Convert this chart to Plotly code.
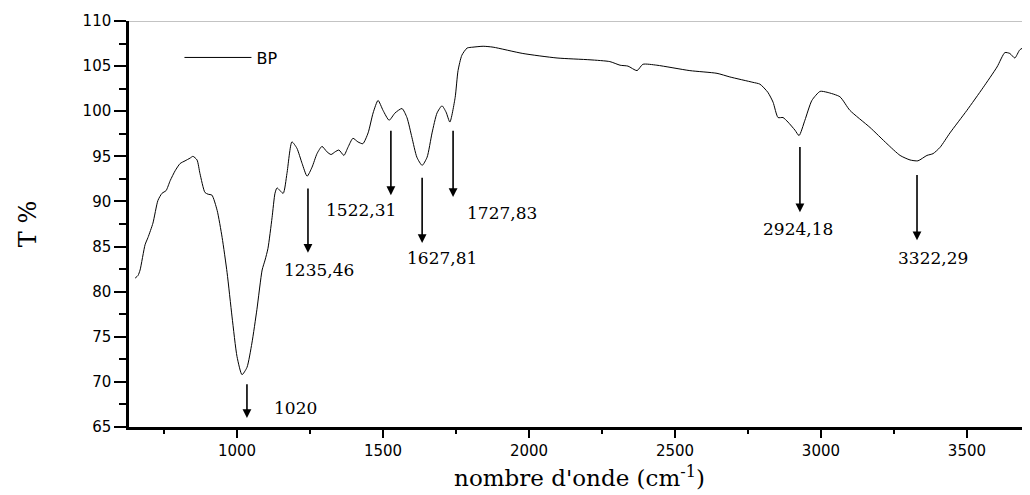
import plotly.graph_objects as go

# ---- data ----
wavenumber = [651, 661, 668, 685, 695, 712, 729, 743, 757, 771, 788, 805, 822, 839, 849, 863,
              873, 890, 901, 914, 932, 949, 966, 983, 1000, 1017, 1034, 1051, 1068, 1086, 1096,
              1106, 1120, 1130, 1137, 1158, 1171, 1188, 1205, 1223, 1240, 1257, 1274, 1291, 1308,
              1322, 1336, 1349, 1366, 1380, 1397, 1414, 1431, 1449, 1466, 1483, 1500, 1521, 1541,
              1565, 1582, 1599, 1616, 1634, 1651, 1668, 1685, 1702, 1716, 1729, 1747, 1757, 1770,
              1788, 1808, 1843, 1877, 1979, 2096, 2209, 2277, 2312, 2339, 2370, 2390, 2438, 2551,
              2644, 2688, 2767, 2791, 2818, 2836, 2853, 2870, 2887, 2911, 2925, 2945, 2969, 2997,
              3021, 3065, 3099, 3168, 3226, 3271, 3305, 3332, 3363, 3384, 3408, 3442, 3500, 3555,
              3603, 3630, 3647, 3664, 3681, 3699, 3716]
transmittance = [81.5, 81.8, 82.4, 85.2, 86.0, 87.6, 90.1, 90.9, 91.2, 92.3, 93.4, 94.2, 94.5,
                 94.8, 95.0, 94.6, 93.1, 91.0, 90.8, 90.7, 89.0, 86.0, 82.1, 77.2, 72.8, 70.8,
                 71.6, 74.3, 78.0, 82.4, 83.5, 84.8, 88.2, 90.9, 91.5, 90.9, 93.1, 96.6, 95.9,
                 94.2, 92.8, 93.8, 95.3, 96.1, 95.5, 95.2, 95.5, 95.7, 95.1, 96.0, 97.0, 96.6,
                 96.4, 97.6, 99.8, 101.2, 100.1, 99.0, 99.8, 100.3, 99.3, 97.1, 94.9, 94.0, 94.9,
                 97.6, 99.8, 100.6, 99.9, 98.8, 101.5, 104.5, 106.2, 107.0, 107.1, 107.2, 107.1,
                 106.4, 105.9, 105.7, 105.5, 105.1, 105.0, 104.5, 105.2, 105.1, 104.5, 104.2,
                 103.8, 103.2, 103.0, 102.1, 101.0, 99.3, 99.3, 98.8, 97.9, 97.3, 99.0, 101.2,
                 102.2, 102.1, 101.6, 100.1, 98.2, 96.4, 95.1, 94.6, 94.5, 95.1, 95.3, 96.0,
                 97.6, 100.1, 102.6, 104.9, 106.5, 106.4, 105.9, 106.8, 107.1, 106.8]

peak_labels = ["1020", "1235,46", "1522,31", "1627,81", "1727,83", "2924,18", "3322,29"]
series_name = "BP"
x_ticks = [1000, 1500, 2000, 2500, 3000, 3500]
y_ticks = [65, 70, 75, 80, 85, 90, 95, 100, 105, 110]

# ---- annotation layout (arrow x, arrow top, arrow head, label x, label y) ----
arrow_x = [1034, 1243, 1527, 1634, 1740, 2928, 3329]
arrow_top = [69.9, 91.6, 98.0, 92.8, 98.0, 96.2, 93.1]
arrow_head = [66.0, 84.3, 90.7, 85.4, 90.5, 88.8, 85.7]
label_x = [1199, 1281, 1425, 1702, 1908, 2921, 3384]
label_y = [67.1, 82.4, 89.0, 83.7, 88.7, 87.0, 83.7]

SERIF = "DejaVu Serif"
SANS = "DejaVu Sans"

fig = go.Figure()
fig.add_trace(go.Scatter(
    x=wavenumber, y=transmittance, mode="lines", name=series_name,
    line=dict(color="black", width=1, shape="spline", smoothing=0.6),
))

annotations = []
for ax_, top, head in zip(arrow_x, arrow_top, arrow_head):
    annotations.append(dict(
        x=ax_, y=head, ax=ax_, ay=top, xref="x", yref="y", axref="x", ayref="y",
        text="", showarrow=True, arrowhead=2, arrowsize=1.1, arrowwidth=1.6,
        arrowcolor="black",
    ))
for txt, lx, ly in zip(peak_labels, label_x, label_y):
    annotations.append(dict(
        x=lx, y=ly, xref="x", yref="y", text=txt, showarrow=False,
        font=dict(family=SERIF, size=17, color="black"),
    ))

# the page body adds an 8 px offset; the figure is sized so the plot area
# lands at x 129-1030, y 21-427 in the 1030x495 window
fig.update_layout(
    width=1022, height=487,
    margin=dict(l=121, r=0, t=13, b=68, autoexpand=False),
    paper_bgcolor="white", plot_bgcolor="white",
    showlegend=True,
    legend=dict(x=0.056, y=0.91, xanchor="left", yanchor="middle", itemwidth=67,
                bgcolor="rgba(0,0,0,0)", font=dict(family=SANS, size=16, color="black")),
    xaxis=dict(
        range=[630, 3716], tickvals=x_ticks, ticks="outside", ticklen=8, tickwidth=2,
        tickcolor="black", showline=True, linecolor="black", linewidth=2.5,
        showgrid=False, zeroline=False, automargin=False,
        tickfont=dict(family=SANS, size=15, color="black"),
        minor=dict(dtick=250, tick0=0, ticks="outside", ticklen=4, tickwidth=2, tickcolor="black"),
        title=dict(text="nombre d'onde (cm<sup>-1</sup>)", standoff=12,
                   font=dict(family=SERIF, size=23, color="black")),
    ),
    yaxis=dict(
        range=[65, 110], tickvals=y_ticks, ticks="outside", ticklen=12, tickwidth=2,
        tickcolor="black", showline=True, linecolor="black", linewidth=2.5,
        showgrid=False, zeroline=False, automargin=False,
        tickfont=dict(family=SANS, size=15, color="black"),
        minor=dict(dtick=2.5, tick0=0, ticks="outside", ticklen=7, tickwidth=2, tickcolor="black"),
        title=dict(text="T %", standoff=40, font=dict(family=SERIF, size=24, color="black")),
    ),
    annotations=annotations,
    shapes=[dict(type="line", xref="paper", yref="y", x0=0, x1=1, y0=110, y1=110,
                 line=dict(color="#888888", width=1))],
)

fig.write_html("out.html")
